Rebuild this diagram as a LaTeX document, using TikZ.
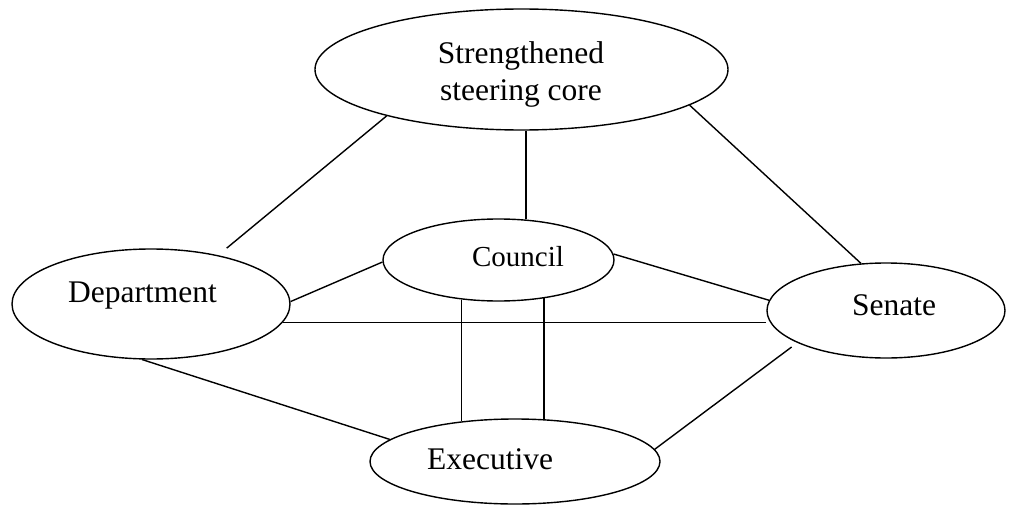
\documentclass[tikz,border=0pt]{standalone}
\usepackage{fontspec}
\setmainfont{Liberation Serif}
\usetikzlibrary{shapes.geometric}
\begin{document}
\begin{tikzpicture}[x=1pt,y=-1pt,
  bubble/.style={draw, ellipse, line width=1.4pt, inner sep=0pt},
  caption/.style={inner sep=0pt, font=\fontsize{31.5}{37}\selectfont},
  link/.style={line width=1.4pt}]
\useasboundingbox (0,0) rectangle (1010,506);

% ellipses
\node[bubble, minimum width=413pt, minimum height=121pt] (ssc)     at (521.5,69.5) {};
\node[bubble, minimum width=231pt, minimum height=82pt]  (council) at (498.5,260) {};
\node[bubble, minimum width=278pt, minimum height=110pt] (dept)    at (151,304) {};
\node[bubble, minimum width=238pt, minimum height=95pt]  (senate)  at (886,310.5) {};
\node[bubble, minimum width=290pt, minimum height=85pt]  (exec)    at (515,461.5) {};

% labels
\node[caption, align=center] (ssc-text) at (521,74.2) {Strengthened\\steering core};
\node[caption, anchor=base, font=\fontsize{29}{34}\selectfont] (council-text) at (518,266) {Council};
\node[caption, anchor=base] (dept-text)   at (142.5,302) {Department};
\node[caption, anchor=base] (senate-text) at (894,315) {Senate};
\node[caption, anchor=base] (exec-text)   at (490,469) {Executive};

% connections
\draw[link, shorten <=11pt] (dept.36) -- (ssc.199);
\draw[link] (council.56.5) -- (council.56.5 |- ssc.south);
\draw[link] (ssc.-12.7) -- (senate.118.7);
\draw[link] (dept.1) -- (council.181);
\draw[link] (council.3.5) -- (senate.175.4);
\draw[link] (dept.-8.3) -- (dept.-8.3 -| senate.west);
\draw[link] (council.227) -- (council.227 |- exec.143.3);
\draw[link] (council.-40) -- (council.-40 |- exec.55.1);
\draw[link] (dept.-99.3) -- (exec.170.3);
\draw[link, shorten >=7pt] (exec.5) -- (senate.200);
\end{tikzpicture}
\end{document}
